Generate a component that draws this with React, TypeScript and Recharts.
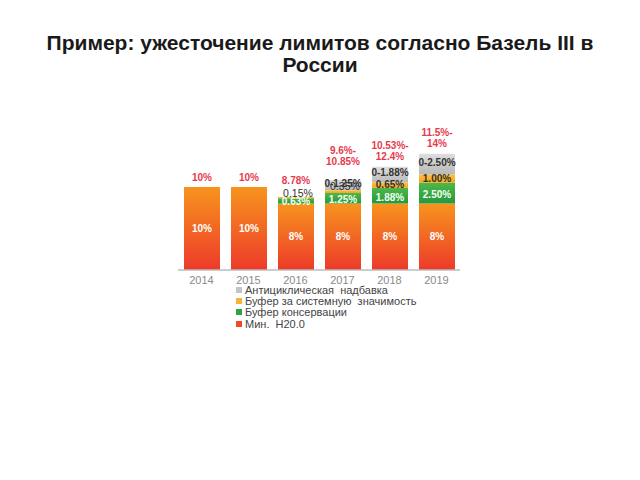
import React from "react";
import { BarChart, Bar, XAxis, YAxis, LabelList } from "recharts";

const years = ["2014", "2015", "2016", "2017", "2018", "2019"];
const minRatio = [10, 10, 8, 8, 8, 8];
const conservation = [0, 0, 0.63, 1.25, 1.88, 2.5];
const systemic = [0, 0, 0.15, 0.35, 0.65, 1.0];
const countercyclical = [0, 0, 0, 1.25, 1.88, 2.5];
const minLabels = ["10%", "10%", "8%", "8%", "8%", "8%"];
const conservationLabels = ["", "", "0.63%", "1.25%", "1.88%", "2.50%"];
const systemicLabels = ["", "", "0.15%", "0.35%", "0.65%", "1.00%"];
const counterLabels = ["", "", "", "0-1.25%", "0-1.88%", "0-2.50%"];
const totalLabels: string[][] = [
  ["10%"],
  ["10%"],
  ["8.78%"],
  ["9.6%-", "10.85%"],
  ["10.53%-", "12.4%"],
  ["11.5%-", "14%"],
];
const legendItems = [
  { name: "Антициклическая  надбавка", color: "#c4c4c4" },
  { name: "Буфер за системную  значимость", color: "#f9b233" },
  { name: "Буфер консервации", color: "#2fa046" },
  { name: "Мин.  Н20.0", color: "#ef4a24" },
];

const data = years.map((y, i) => ({
  year: y,
  min: minRatio[i],
  cons: conservation[i],
  sys: systemic[i],
  cc: countercyclical[i],
}));

const FONT = "'Liberation Sans', Arial, sans-serif";

const T = (p: {
  x: number;
  y: number;
  t: string;
  fill: string;
  bold?: boolean;
  size?: number;
}) => (
  <text
    x={p.x}
    y={p.y}
    textAnchor="middle"
    dominantBaseline="central"
    fontFamily={FONT}
    fontWeight={p.bold === false ? "normal" : "bold"}
    fontSize={p.size ?? 10}
    fill={p.fill}
  >
    {p.t}
  </text>
);

// All labels are placed from an overlay copy of the base (min) bar, whose
// entries always exist, using the bar's own pixel scale (height / value).
const allLabels = (props: any) => {
  const { x, y, width, height, index } = props;
  const i = index;
  const unit = height / minRatio[i];
  const cx = x + width / 2;
  const out: React.ReactNode[] = [];
  out.push(<T key="m" x={cx} y={y + height / 2} t={minLabels[i]} fill="#ffffff" />);
  let top = y;
  if (conservation[i] > 0) {
    const h = conservation[i] * unit;
    out.push(
      <T key="c" x={cx} y={top - h / 2 + (h < 8 ? 1 : 1.5)} t={conservationLabels[i]} fill="#f4fff2" />
    );
    top -= h;
  }
  let thinSys = false;
  if (systemic[i] > 0) {
    const h = systemic[i] * unit;
    thinSys = h < 4;
    out.push(
      <T
        key="s"
        x={cx + (thinSys ? 2 : 0)}
        y={thinSys ? top - h - 4 : top - h / 2 - (h < 6 ? 1 : 0)}
        t={systemicLabels[i]}
        fill="#333"
        bold={!thinSys}
        size={thinSys ? 10.5 : 10}
      />
    );
    top -= h;
  }
  if (countercyclical[i] > 0) {
    const h = countercyclical[i] * unit;
    out.push(<T key="g" x={cx} y={top - h / 2 - 2} t={counterLabels[i]} fill="#333" />);
    top -= h;
  }
  const lines = totalLabels[i];
  const b = top - (thinSys ? 17 : 9) - (lines.length > 1 ? 1 : 0);
  lines.forEach((l, k) => {
    out.push(
      <T
        key={"t" + k}
        x={cx}
        y={b - (lines.length - 1 - k) * 11}
        t={l}
        fill="#e63a4c"
        size={10}
      />
    );
  });
  return <g>{out}</g>;
};

export default function App() {
  return (
    <div
      style={{
        position: "absolute",
        left: 0,
        top: 0,
        width: 640,
        height: 480,
        background: "#fff",
        fontFamily: FONT,
      }}
    >
      <div
        style={{
          position: "absolute",
          left: 0,
          top: 32,
          width: 640,
          textAlign: "center",
          fontWeight: "bold",
          fontSize: 21,
          lineHeight: "22px",
          color: "#1a1a1a",
        }}
      >
        Пример: ужесточение лимитов согласно Базель III в
        <br />
        России
      </div>
      <div style={{ position: "absolute", left: 0, top: 0 }}>
        <BarChart
          width={640}
          height={480}
          data={data}
          margin={{ top: 137, bottom: 180, left: 178, right: 180 }}
          barSize={36}
        >
          <defs>
            <linearGradient id="gRed" x1="0" y1="0" x2="0" y2="1">
              <stop offset="0%" stopColor="#f7941d" />
              <stop offset="100%" stopColor="#ed3a2a" />
            </linearGradient>
            <linearGradient id="gGreen" x1="0" y1="0" x2="0" y2="1">
              <stop offset="0%" stopColor="#4db848" />
              <stop offset="100%" stopColor="#25983f" />
            </linearGradient>
            <linearGradient id="gYellow" x1="0" y1="0" x2="0" y2="1">
              <stop offset="0%" stopColor="#fcc33a" />
              <stop offset="100%" stopColor="#f7a21c" />
            </linearGradient>
            <linearGradient id="gGray" x1="0" y1="0" x2="0" y2="1">
              <stop offset="0%" stopColor="#dedede" />
              <stop offset="100%" stopColor="#b8b8b8" />
            </linearGradient>
          </defs>
          <XAxis
            dataKey="year"
            height={30}
            axisLine={{ stroke: "#bdbdbd", strokeWidth: 1.5 }}
            tickLine={false}
            tick={{ fill: "#8a8a8a", fontSize: 11, fontFamily: FONT }}
            tickMargin={0}
          />
          <XAxis xAxisId="lab" dataKey="year" hide />
          <YAxis hide domain={[0, 16]} />
          <Bar dataKey="min" stackId="a" fill="url(#gRed)" isAnimationActive={false} />
          <Bar dataKey="cons" stackId="a" fill="url(#gGreen)" isAnimationActive={false} />
          <Bar dataKey="sys" stackId="a" fill="url(#gYellow)" isAnimationActive={false} />
          <Bar dataKey="cc" stackId="a" fill="url(#gGray)" isAnimationActive={false} />
          <Bar
            dataKey="min"
            xAxisId="lab"
            fill="none"
            isAnimationActive={false}
            legendType="none"
          >
            <LabelList dataKey="min" content={allLabels} />
          </Bar>
        </BarChart>
      </div>
      <div style={{ position: "absolute", left: 236, top: 284 }}>
        {legendItems.map((it) => (
          <div
            key={it.name}
            style={{
              display: "flex",
              alignItems: "center",
              height: 11.3,
              fontSize: 11,
              color: "#444",
              whiteSpace: "pre",
            }}
          >
            <span
              style={{
                display: "inline-block",
                width: 6,
                height: 6,
                background: it.color,
                marginRight: 3,
              }}
            />
            {it.name}
          </div>
        ))}
      </div>
    </div>
  );
}
